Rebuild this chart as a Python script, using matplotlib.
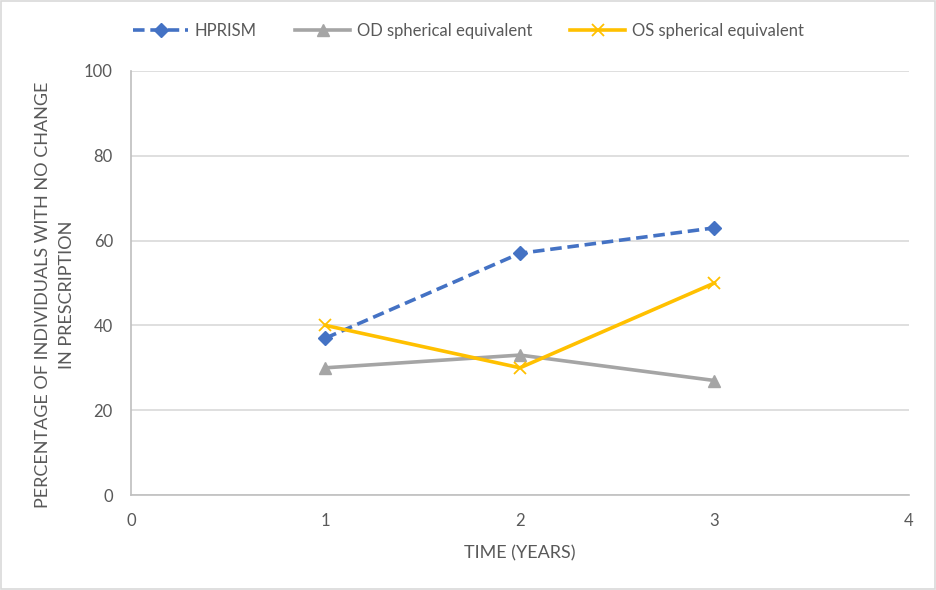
import matplotlib
matplotlib.use('Agg')
import matplotlib.pyplot as plt
from matplotlib.patches import Rectangle

plt.rcParams['font.family'] = ['Lato', 'DejaVu Sans']

# data
years = [1, 2, 3]
hprism = [37, 57, 63]
od_se = [30, 33, 27]
os_se = [40, 30, 50]

x_ticks = [0, 1, 2, 3, 4]
y_ticks = [0, 20, 40, 60, 80, 100]

text_col = '#595959'

fig = plt.figure(figsize=(9.37, 5.9), dpi=100)
ax = fig.add_axes([0.1398, 0.161, 0.8303, 0.7187])

ax.plot(years, hprism, color='#4472C4', lw=2.6, ls=(0, (3.2, 1.6)),
        marker='D', ms=7, label='HPRISM')
ax.plot(years, od_se, color='#A5A5A5', lw=2.6,
        marker='^', ms=8, label='OD spherical equivalent')
ax.plot(years, os_se, color='#FFC000', lw=2.6,
        marker='x', ms=8, mew=1.3, label='OS spherical equivalent')

ax.set_xlim(0, 4)
ax.set_ylim(0, 100)
ax.set_xticks(x_ticks)
ax.set_yticks(y_ticks)
ax.grid(axis='y', color='#D9D9D9', lw=1.2)
ax.set_axisbelow(True)
for s in ['top', 'right']:
    ax.spines[s].set_visible(False)
for s in ['left', 'bottom']:
    ax.spines[s].set_color('#BFBFBF')
    ax.spines[s].set_linewidth(1.2)
ax.tick_params(length=0, labelsize=12, colors=text_col)
ax.tick_params(axis='y', pad=13)
ax.tick_params(axis='x', pad=13)

ax.set_xlabel('TIME (YEARS)', fontsize=13, color=text_col, labelpad=12)
ax.set_ylabel('PERCENTAGE OF INDIVIDUALS WITH NO CHANGE\nIN PRESCRIPTION',
              fontsize=13, color=text_col, linespacing=1.55,
              multialignment='center', va='center')
ax.yaxis.set_label_coords(-0.0977, 0.472)

leg = fig.legend(loc='center', bbox_to_anchor=(0.5, 0.948), ncol=3,
                 frameon=False, fontsize=12, handlelength=3.3,
                 columnspacing=2.3, handletextpad=0.4)
for t in leg.get_texts():
    t.set_color(text_col)

fig.patches.append(Rectangle((0.001, 0.002), 0.997, 0.996, transform=fig.transFigure,
                             fill=False, edgecolor='#D9D9D9', lw=1.2))

fig.savefig('out.png', dpi=100)
